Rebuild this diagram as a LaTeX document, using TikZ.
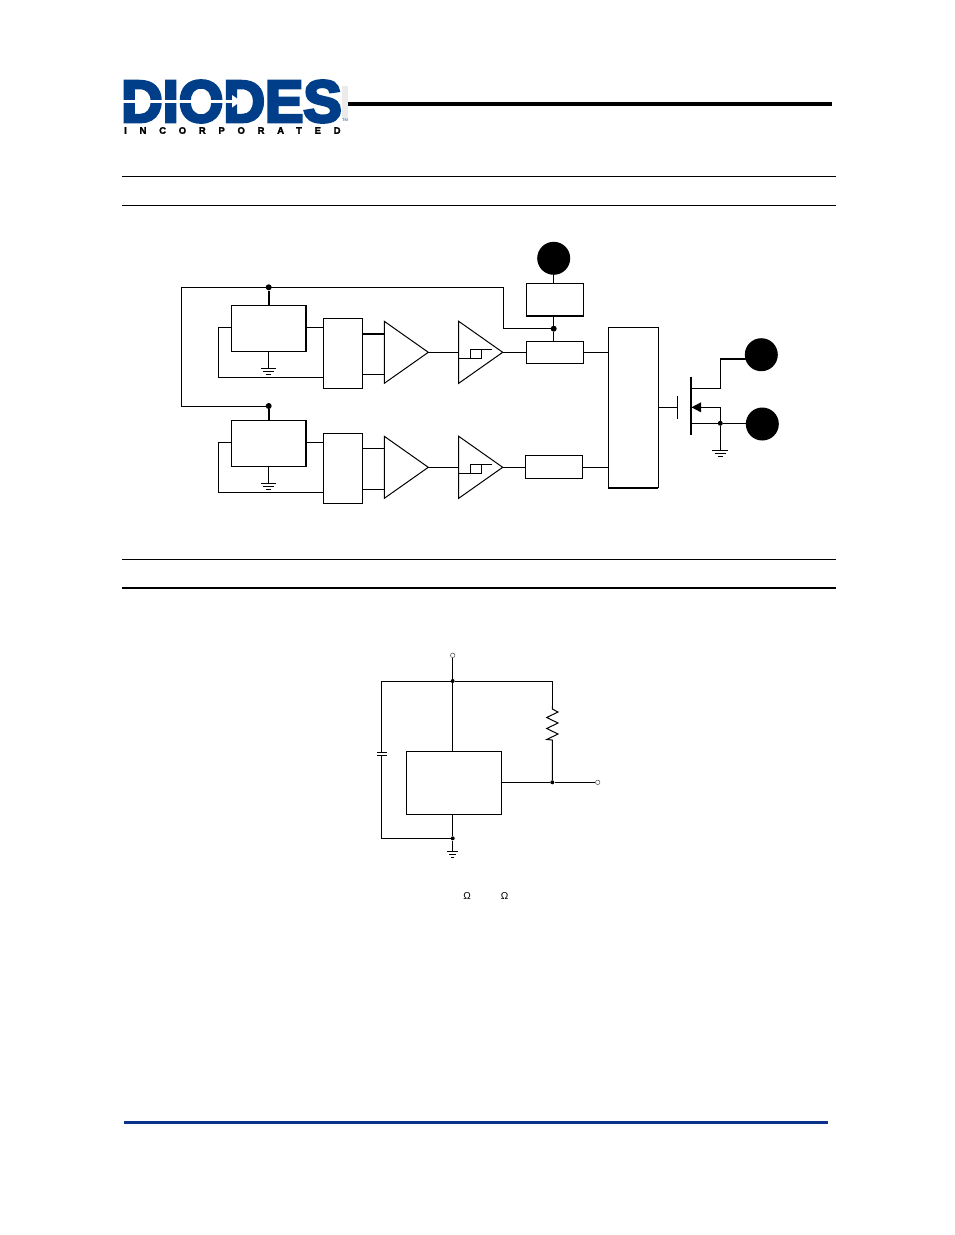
\documentclass[tikz,border=0pt]{standalone}
\usepackage{fontspec}
\newfontfamily\logofont[FakeBold=5]{Liberation Sans Bold}
\newfontfamily\incfont[LetterSpace=134,FakeBold=2]{Liberation Sans Bold}
\newfontfamily\symfont{Liberation Sans}
\definecolor{logoblue}{RGB}{0,62,138}
\definecolor{footblue}{RGB}{10,50,140}
\newcommand{\bx}[5]{\node[boxn,minimum width={((#4)-(#2))*1pt},minimum height={((#5)-(#3))*1pt}] (#1) at ({((#2)+(#4))/2},{((#3)+(#5))/2}) {};}
\newcommand{\gndsym}[2]{\draw[wire] (#1) ++(-#2,0) -- ++(2*#2,0) ++(-#2*1.7,3) -- ++(1.4*#2,0) ++(-#2*1.05,3) -- ++(.7*#2,0);}
\newcommand{\channel}[3]{%
  \pgfmathsetmacro{\dy}{#2}
  \bx{reg#1}{231.3}{305+\dy}{305.7}{351.8+\dy}
  \bx{sw#1}{323.3}{318.3+\dy}{362.3}{388.3+\dy}
  \draw[wire,line width=2pt] (reg#1.north east) -- (reg#1.south east);
  \draw[wire,line width=2pt] (dot#1) -- (reg#1.north -| dot#1);
  \coordinate (gnd#1) at (268.7,368.3+\dy);
  \draw[wire] (reg#1.south -| gnd#1) -- (gnd#1);
  \gndsym{gnd#1}{7.5}
  \coordinate (loopa#1) at (218.3,327.3+\dy);
  \coordinate (loopb#1) at (218.3,377+\dy);
  \draw[wire] (reg#1.west |- loopa#1) -- (loopa#1) -- (loopb#1) -- (sw#1.west |- loopb#1);
  \draw[wire] (reg#1.east |- loopa#1) -- (sw#1.west |- loopa#1);
  \coordinate (ampa#1) at (384.3,321.3+\dy);
  \coordinate (ampb#1) at (384.3,383.3+\dy);
  \coordinate (ampc#1) at (428.3,352.3+\dy);
  \draw[wire,line join=miter] (ampa#1) -- (ampb#1) -- (ampc#1) -- cycle;
  \draw[wire,line width=#3] (sw#1.east |- 0,333.7+\dy) -- (384.3,333.7+\dy);
  \draw[wire] (sw#1.east |- 0,374.3+\dy) -- (384.3,374.3+\dy);
  \coordinate (cmpa#1) at (458.7,321.3+\dy);
  \coordinate (cmpb#1) at (458.7,383.3+\dy);
  \coordinate (cmpc#1) at (502.7,352.3+\dy);
  \draw[wire,line join=miter] (cmpa#1) -- (cmpb#1) -- (cmpc#1) -- cycle;
  \draw[wire] (ampc#1) -- (cmpa#1 |- ampc#1);
  \draw[wire] (458.7,358.3+\dy) -- (481.7,358.3+\dy) -- (481.7,349.3+\dy) -- (492,349.3+\dy);
  \draw[wire] (470.3,358.3+\dy) -- (470.3,349.3+\dy) -- (481.7,349.3+\dy);
}
\tikzset{
  wire/.style={line width=1pt,black},
  boxn/.style={draw=black,line width=1pt,fill=white,rectangle,inner sep=0pt,outer sep=0pt},
  junction/.style={circle,fill=black,inner sep=0pt,minimum size=#1},
  pin/.style={circle,fill=black,inner sep=0pt,minimum size=33pt},
  openpin/.style={circle,draw=black!70,line width=.5pt,fill=white,inner sep=0pt,minimum size=4.5pt},
}
\begin{document}
\begin{tikzpicture}[x=1pt,y=-1pt]
\useasboundingbox (0,0) rectangle (954,1235);
\fill[white] (0,0) rectangle (954,1235);
% header
\fill[black!8] (342,86) rectangle (348,118);
\node[anchor=west,inner sep=0pt,text=logoblue,font=\logofont\fontsize{59}{59}\selectfont,xscale=.975] (logo) at (121,101.5) {DIODES};
\node[anchor=west,inner sep=0pt,text=black,font=\incfont\fontsize{9.5}{9.5}\selectfont] (inc) at (124,130.5) {INCORPORATED};
\node[inner sep=0pt,text=logoblue,font=\symfont\fontsize{4}{4}\selectfont] (tm) at (345,120.5) {TM};
\fill[white] (123,100) rectangle (234,102.5);
\fill[white] (232,95) -- (241,101.2) -- (232,107.5) -- cycle;
\draw[line width=4pt] (348,103.5) -- (832,103.5);
\draw[line width=1pt] (122,176.5) -- (836,176.5);
\draw[line width=1pt] (122,205.5) -- (836,205.5);
\draw[line width=1pt] (122,559.5) -- (836,559.5);
\draw[line width=2pt] (122,588) -- (836,588);
\draw[line width=3pt,footblue] (124,1122) -- (828,1122);
% block diagram: pins
\node[pin] (vdd) at (553.7,258.3) {};
\node[pin] (drn) at (761.3,354.7) {};
\node[pin] (src) at (762.3,424) {};
\node[junction=6pt] (dot1) at (268.7,287.3) {};
\node[junction=6pt] (dot2) at (268.7,406) {};
\node[junction=6pt] (dotv) at (553.7,328.7) {};
\channel{1}{0}{2pt}
\channel{2}{115}{1pt}
% supply branch
\bx{bias}{526.3}{283.3}{583.3}{316}
\bx{flt}{526.3}{341.3}{583.3}{363.3}
\bx{flb}{525}{455.3}{582.3}{478.3}
\bx{logic}{608.3}{327.3}{658.3}{487.7}
\draw[wire] (vdd) -- (bias.north -| vdd);
\draw[wire] (bias.south -| vdd) -- (dotv);
\draw[wire] (dotv) -- (flt.north -| dotv);
\coordinate (ra) at (181.3,287.3);
\coordinate (rb) at (181.3,406);
\coordinate (rc) at (503.3,287.3);
\coordinate (rd) at (503.3,328.7);
\draw[wire] (dot2) -- (rb) -- (ra) -- (rc) -- (rd) -- (dotv);
\draw[wire] (cmpc1) -- (flt.west |- cmpc1);
\draw[wire] (cmpc2) -- (flb.west |- cmpc2);
\draw[wire] (flt.east) -- (logic.west |- flt.east);
\draw[wire] (flb.east |- 0,467.3) -- (logic.west |- 0,467.3);
\draw[wire,line width=2pt] (logic.south west) -- (logic.south east);
\draw[wire,line width=2pt] (bias.south west) -- (bias.south east);
% MOSFET
\coordinate (gp) at (677.3,407.3);
\coordinate (ch) at (691,407.3);
\coordinate (drk) at (720.3,388.3);
\coordinate (drt) at (720.3,358.7);
\coordinate (srk) at (720.3,407.3);
\coordinate (gndm) at (720.3,450);
\node[junction=5pt] (dotm) at (720.3,423.3) {};
\draw[wire] (logic.east |- gp) -- (gp);
\draw[wire] (677.3,395.7) -- (677.3,419);
\draw[wire,line width=2pt] (691,376.7) -- (691,435);
\draw[wire] (ch |- drk) -- (drk) -- (drt);
\draw[wire,line width=2pt] (drt) -- (drn |- drt);
\draw[wire] (ch) -- (srk) -- (dotm);
\draw[wire] (ch |- dotm) -- (dotm) -- (src |- dotm);
\draw[wire] (dotm) -- (gndm);
\fill (691.5,407.3) -- (701,402.3) -- (701,412.3) -- cycle;
\gndsym{gndm}{8}
% application circuit
\node[openpin] (vin) at (452.7,655.3) {};
\node[openpin] (vout) at (597.7,782.3) {};
\node[junction=4pt] (dtop) at (452.7,681) {};
\node[junction=4pt] (dbot) at (452.7,838.3) {};
\node[junction=4pt] (dout) at (552.3,782.3) {};
\bx{ic}{406.3}{751.3}{501.3}{814}
\coordinate (tl) at (381.3,681);
\coordinate (tr) at (552.3,681);
\coordinate (bl) at (381.3,838.3);
\coordinate (capt) at (381.3,752.3);
\coordinate (capb) at (381.3,755.7);
\coordinate (rest) at (552.3,706);
\coordinate (resb) at (552.3,740);
\coordinate (gnda) at (452.7,851.7);
\draw[wire,line width=.6pt] (vin) -- (dtop);
\draw[wire] (tl) -- (dtop) -- (tr) -- (rest);
\draw[wire] (dtop) -- (ic.north -| dtop);
\draw[wire] (capt) -- (tl);
\draw[wire] (capb) -- (bl) -- (dbot);
\draw[wire] (377,752.3) -- (386.7,752.3);
\draw[wire] (377,755.7) -- (386.7,755.7);
\draw[wire] (rest) -- (552.3,709) -- (558,712) -- (546.7,717.5) -- (558,723) -- (546.7,728.5) -- (558,734) -- (546.7,739.5) -- (resb) -- (dout);
\draw[wire] (ic.east |- dout) -- (dout) -- (vout);
\draw[wire] (ic.south -| dbot) -- (dbot) -- (gnda);
\draw[wire,line width=1.2pt] (447.3,851.7) -- (458,851.7);
\draw[wire,line width=1.2pt] (449,854.5) -- (456.4,854.5);
\draw[wire] (451,857) -- (454.4,857);
\node[inner sep=0pt,font=\symfont\fontsize{10}{10}\selectfont] (o1) at (467,895.5) {Ω};
\node[inner sep=0pt,font=\symfont\fontsize{10}{10}\selectfont] (o2) at (504.5,895.5) {Ω};
\end{tikzpicture}
\end{document}
